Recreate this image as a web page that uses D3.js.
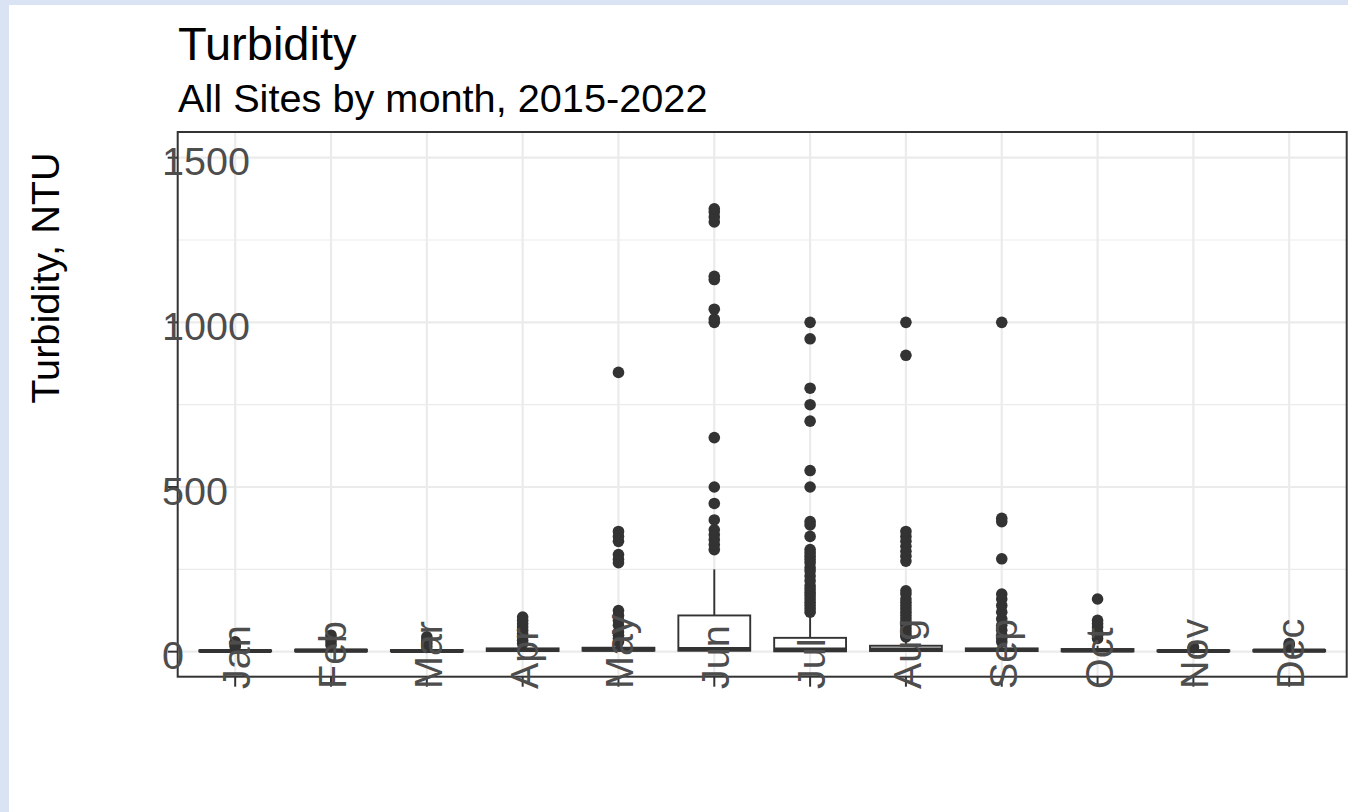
<!DOCTYPE html>
<html>
<head>
<meta charset="utf-8">
<script src="https://cdn.jsdelivr.net/npm/d3@7"></script>
<style>
  html, body { margin: 0; padding: 0; background: #dae3f3; }
  svg { display: block; }
  text { font-family: "Liberation Sans", Arial, sans-serif; }
</style>
</head>
<body>
<svg id="chart" width="1348" height="812"></svg>
<script>
// ---- Data ----
const months = ["Jan","Feb","Mar","Apr","May","Jun","Jul","Aug","Sep","Oct","Nov","Dec"];
const whiskerLow = [0, 0, 0, 0, 0, 0, 0, 0, 0, 0, 0, 0];
const q1Values   = [1, 1, 1, 2, 3, 3, 1, 2, 2, 1, 1, 1];
const medians    = [2, 3, 2, 5, 6, 8, 6, 6, 5, 4, 2, 3];
const q3Values   = [4, 6, 5, 10, 12, 110, 42, 18, 10, 8, 4, 5];
const whiskerHigh= [8, 12, 10, 20, 25, 250, 105, 40, 22, 18, 8, 10];
const outlierValues = [
  [15, 20, 25, 30],
  [20, 30, 40, 50],
  [15, 25, 35, 45],
  [25, 35, 45, 55, 65, 75, 85, 95, 105],
  [30, 40, 50, 60, 80, 95, 110, 125, 270, 280, 295, 335, 350, 365, 848],
  [310, 325, 340, 355, 370, 400, 450, 500, 650, 1000, 1010, 1040, 1130, 1140, 1305, 1320, 1335, 1345],
  [120, 130, 140, 150, 160, 170, 180, 190, 200, 215, 230, 245, 255, 270, 280, 290, 300, 310, 350, 385, 395, 500, 550, 700, 750, 800, 950, 1000],
  [45, 50, 60, 70, 80, 90, 100, 110, 120, 130, 140, 150, 160, 175, 185, 275, 290, 305, 320, 335, 350, 365, 900, 1000],
  [30, 40, 50, 65, 80, 100, 120, 140, 160, 175, 282, 395, 405, 1000],
  [40, 50, 60, 75, 85, 95, 160],
  [12, 15],
  [20, 25]
];
const yMajorTicks = [0, 500, 1000, 1500];
const yMinorTicks = [250, 750, 1250];
const titleText = "Turbidity";
const subtitleText = "All Sites by month, 2015-2022";
const yTitleText = "Turbidity, NTU";

// ---- Layout ----
const svg = d3.select("#chart");
const panel = { left: 177.7, right: 1346.7, top: 132, bottom: 676.7 };
const dark = "#333333";

// white background area
svg.append("rect").attr("x", 9).attr("y", 5).attr("width", 1348 - 9).attr("height", 812 - 5).attr("fill", "#ffffff");

const x = d3.scalePoint().domain(months).range([panel.left, panel.right]).padding(0.6);
const y = d3.scaleLinear().domain([-76, 1578]).range([panel.bottom, panel.top]);
const boxW = x.step() * 0.75;

// grid
const grid = svg.append("g");
grid.selectAll("line.minor").data(yMinorTicks).join("line")
  .attr("x1", panel.left).attr("x2", panel.right)
  .attr("y1", d => y(d)).attr("y2", d => y(d))
  .attr("stroke", "#ebebeb").attr("stroke-width", 1.2);
grid.selectAll("line.major").data(yMajorTicks).join("line")
  .attr("x1", panel.left).attr("x2", panel.right)
  .attr("y1", d => y(d)).attr("y2", d => y(d))
  .attr("stroke", "#ebebeb").attr("stroke-width", 2.2);
grid.selectAll("line.vx").data(months).join("line")
  .attr("x1", d => x(d)).attr("x2", d => x(d))
  .attr("y1", panel.top).attr("y2", panel.bottom)
  .attr("stroke", "#ebebeb").attr("stroke-width", 2.2);

// boxplots
const boxes = svg.append("g");
months.forEach((m, i) => {
  const cx = x(m);
  const g = boxes.append("g");
  // whiskers
  g.append("line").attr("x1", cx).attr("x2", cx)
    .attr("y1", y(q3Values[i])).attr("y2", y(whiskerHigh[i]))
    .attr("stroke", dark).attr("stroke-width", 1.9);
  g.append("line").attr("x1", cx).attr("x2", cx)
    .attr("y1", y(q1Values[i])).attr("y2", y(whiskerLow[i]))
    .attr("stroke", dark).attr("stroke-width", 1.9);
  // box
  g.append("rect").attr("x", cx - boxW / 2).attr("width", boxW)
    .attr("y", y(q3Values[i])).attr("height", Math.max(0, y(q1Values[i]) - y(q3Values[i])))
    .attr("fill", "#ffffff").attr("stroke", dark).attr("stroke-width", 1.9);
  // median
  g.append("line").attr("x1", cx - boxW / 2).attr("x2", cx + boxW / 2)
    .attr("y1", y(medians[i])).attr("y2", y(medians[i]))
    .attr("stroke", dark).attr("stroke-width", 4.2);
  // outliers
  g.selectAll("circle").data(outlierValues[i]).join("circle")
    .attr("cx", cx).attr("cy", d => y(d)).attr("r", 5.8)
    .attr("fill", dark);
});

// panel border
svg.append("rect").attr("x", panel.left).attr("y", panel.top)
  .attr("width", panel.right - panel.left).attr("height", panel.bottom - panel.top)
  .attr("fill", "none").attr("stroke", dark).attr("stroke-width", 2);

// y axis ticks + labels
const yAxisG = svg.append("g");
yAxisG.selectAll("line").data(yMajorTicks).join("line")
  .attr("x1", panel.left - 10).attr("x2", panel.left)
  .attr("y1", d => y(d)).attr("y2", d => y(d))
  .attr("stroke", dark).attr("stroke-width", 2);
yAxisG.selectAll("text").data(yMajorTicks).join("text")
  .attr("x", 162).attr("y", d => y(d)).attr("dy", "0.45em")
  .attr("text-anchor", "start")
  .attr("font-size", 39.5).attr("fill", "#4d4d4d")
  .text(d => d);

// x axis ticks + labels
const xAxisG = svg.append("g");
xAxisG.selectAll("line").data(months).join("line")
  .attr("x1", d => x(d)).attr("x2", d => x(d))
  .attr("y1", panel.bottom).attr("y2", panel.bottom + 10)
  .attr("stroke", dark).attr("stroke-width", 2);
xAxisG.selectAll("text").data(months).join("text")
  .attr("transform", d => `translate(${x(d)},689) rotate(-90)`)
  .attr("dy", "0.38em")
  .attr("text-anchor", "start")
  .attr("font-size", 39.5).attr("fill", "#4d4d4d")
  .text(d => d);

// titles
svg.append("text").attr("x", 178).attr("y", 60)
  .attr("font-size", 47).attr("fill", "#000000").text(titleText);
svg.append("text").attr("x", 178).attr("y", 111.5)
  .attr("font-size", 39.7).attr("fill", "#000000").text(subtitleText);
svg.append("text")
  .attr("transform", "translate(59,278) rotate(-90)")
  .attr("text-anchor", "middle")
  .attr("font-size", 39.7).attr("fill", "#000000").text(yTitleText);
</script>
</body>
</html>
